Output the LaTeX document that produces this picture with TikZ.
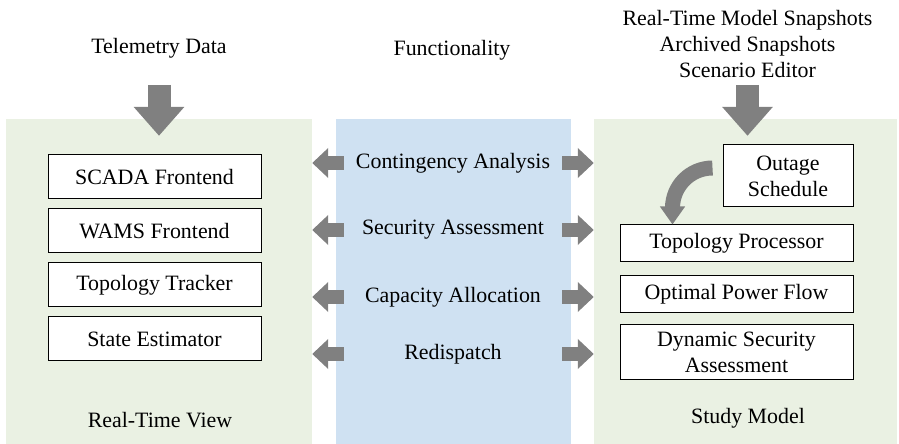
\documentclass[tikz,border=0pt]{standalone}
\usepackage{fontspec}
\setmainfont{Liberation Serif}
\usetikzlibrary{arrows.meta,calc}

\definecolor{viewgreen}{RGB}{234,241,227}
\definecolor{funcblue}{RGB}{207,225,242}
\definecolor{arrowgray}{RGB}{128,128,128}

\begin{document}
\begin{tikzpicture}[x=1pt,y=1pt,font=\fontsize{21.9}{26}\selectfont,
    panel/.style={inner sep=0pt,minimum height=325pt},
    modbox/.style={draw=black,line width=1pt,fill=white,inner sep=0pt,align=center},
    sidearrow/.style={draw=arrowgray,line width=14pt,-{Triangle[width=29pt,length=16pt]}},
    downarrow/.style={draw=arrowgray,line width=23pt,-{Triangle[width=49pt,length=29pt]}},
    curvearrow/.style={draw=arrowgray,line width=15pt,-{Triangle[width=24pt,length=18pt]}}]
      \useasboundingbox (0,0) rectangle (899,444) ;
      % the three columns
      \node[panel,fill=viewgreen,minimum width=306pt] (rtv) at (159,162.5) {} ;
      \node[panel,fill=funcblue,minimum width=235pt] (func) at (453.5,162.5) {} ;
      \node[panel,fill=viewgreen,minimum width=303pt] (sm) at (745.5,162.5) {} ;
      % headings
      \node (td) at (159,396) {Telemetry Data} ;
      \node (fn) at (452,394) {Functionality} ;
      \node[align=center] (sn) at (747.5,400) {Real-Time Model Snapshots\\Archived Snapshots\\Scenario Editor} ;
      \node (rtvlabel) at (160,24) {Real-Time View} ;
      \node (smlabel) at (748,26) {Study Model} ;
      % inputs
      \draw[downarrow] ($(td.center)+(0,-37)$) -- ($(td.center |- rtv.north)+(0,-17)$) ;
      \draw[downarrow] ($(sn.center)+(0,-41)$) -- ($(sn.center |- sm.north)+(0,-17)$) ;
      % functions
      \node (ca) at (453,281) {Contingency Analysis} ;
      \node (sa) at (453,214) {Security Assessment} ;
      \node (cal) at (453,147) {Capacity Allocation} ;
      \node (rd) at (453,90) {Redispatch} ;
      \foreach \f in {ca,sa,cal,rd} {
        \draw[sidearrow] ($(func.west |- \f)+(8,0)$) -- (rtv.east |- \f) ;
        \draw[sidearrow] ($(func.east |- \f)+(-9,0)$) -- (sm.west |- \f) ;
      }
      % real-time view
      \node[modbox,minimum width=213pt,minimum height=44pt] (scada) at (154.5,267) {SCADA Frontend} ;
      \node[modbox,minimum width=213pt,minimum height=44pt] (wams) at (154.5,213) {WAMS Frontend} ;
      \node[modbox,minimum width=213pt,minimum height=44pt] (tt) at (154.5,159) {Topology Tracker} ;
      \node[modbox,minimum width=213pt,minimum height=44pt] (se) at (154.5,105) {State Estimator} ;
      % study model
      \node[modbox,minimum width=130pt,minimum height=62pt] (os) at (788,268) {Outage\\Schedule} ;
      \node[modbox,minimum width=233pt,minimum height=37pt] (tp) at (736.5,200.5) {Topology Processor} ;
      \node[modbox,minimum width=233pt,minimum height=37pt] (opf) at (736.5,149.5) {Optimal Power Flow} ;
      \node[modbox,minimum width=233pt,minimum height=55pt] (dsa) at (736.5,91.5) {Dynamic Security\\Assessment} ;
      \draw[curvearrow] ($(os.west)+(-10,8)$) arc[start angle=90,end angle=180,radius=40] coordinate (bend) -- (bend |- tp.north) ;
    \end{tikzpicture}
\end{document}
